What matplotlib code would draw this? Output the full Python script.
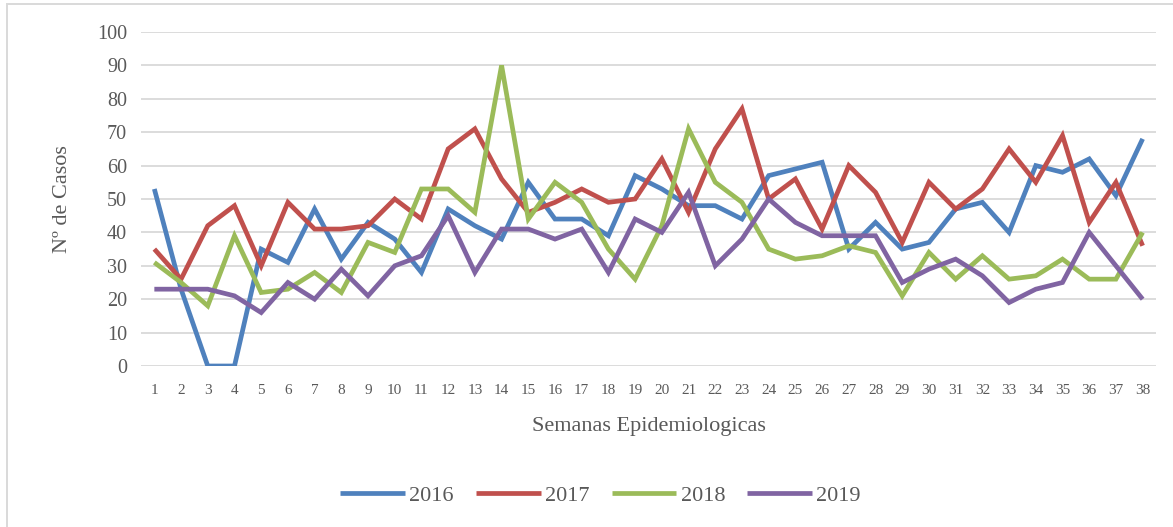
import numpy as np
import matplotlib.pyplot as plt
from matplotlib.patches import Rectangle

semanas = list(range(1, 39))
casos_2016 = [53, 23, 0, 0, 35, 31, 47, 32, 43, 38, 28, 47, 42, 38, 55, 44, 44, 39, 57, 53,
              48, 48, 44, 57, 59, 61, 35, 43, 35, 37, 47, 49, 40, 60, 58, 62, 51, 68]
casos_2017 = [35, 26, 42, 48, 30, 49, 41, 41, 42, 50, 44, 65, 71, 56, 46, 49, 53, 49, 50, 62,
              46, 65, 77, 50, 56, 41, 60, 52, 37, 55, 47, 53, 65, 55, 69, 43, 55, 36]
casos_2018 = [31, 25, 18, 39, 22, 23, 28, 22, 37, 34, 53, 53, 46, 90, 44, 55, 49, 35, 26, 42,
              71, 55, 49, 35, 32, 33, 36, 34, 21, 34, 26, 33, 26, 27, 32, 26, 26, 40]
casos_2019 = [23, 23, 23, 21, 16, 25, 20, 29, 21, 30, 33, 45, 28, 41, 41, 38, 41, 28, 44, 40,
              52, 30, 38, 50, 43, 39, 39, 39, 25, 29, 32, 27, 19, 23, 25, 40, 30, 20]

series = {"2016": casos_2016, "2017": casos_2017, "2018": casos_2018, "2019": casos_2019}
CORES = {"2016": "#4F81BD", "2017": "#C0504D", "2018": "#9BBB59", "2019": "#8064A2"}
CINZA = "#595959"
FONTE = ["Liberation Serif", "DejaVu Serif"]

plt.rcParams["font.family"] = FONTE
fig = plt.figure(figsize=(11.73, 5.27), dpi=100, facecolor="white")
ax = fig.add_axes([0.1202, 0.3055, 0.8653, 0.6338])

for ano, vals in series.items():
    ax.plot(semanas, vals, color=CORES[ano], lw=3.4, label=ano, solid_joinstyle="miter",
            solid_capstyle="butt")

ax.set_xlim(0.5, 38.5)
ax.set_ylim(0, 100)
ax.set_yticks(range(0, 101, 10))
ax.set_xticks(semanas)
ax.grid(axis="y", color="#D9D9D9", lw=1.3)
ax.set_axisbelow(True)
for s in ax.spines.values():
    s.set_visible(False)
ax.tick_params(axis="both", length=0, colors=CINZA)
ax.tick_params(axis="y", labelsize=14.5, pad=10)
ax.tick_params(axis="x", labelsize=11, pad=13)
ax.set_xlabel("Semanas Epidemiologicas", fontsize=16, color=CINZA, labelpad=14)
ax.set_ylabel("Nº de Casos", fontsize=16, color=CINZA, labelpad=18)

fig.legend(loc="center", bbox_to_anchor=(0.512, 0.06), ncol=4, frameon=False,
           fontsize=16, handlelength=2.9, handletextpad=0.2, columnspacing=1.0,
           labelcolor=CINZA)

fig.patches.append(Rectangle((0.006, -0.01), 1.0, 1.003, transform=fig.transFigure,
                             fill=False, edgecolor="#D9D9D9", lw=1.4))

fig.savefig("out.png", dpi=100, facecolor="white")
